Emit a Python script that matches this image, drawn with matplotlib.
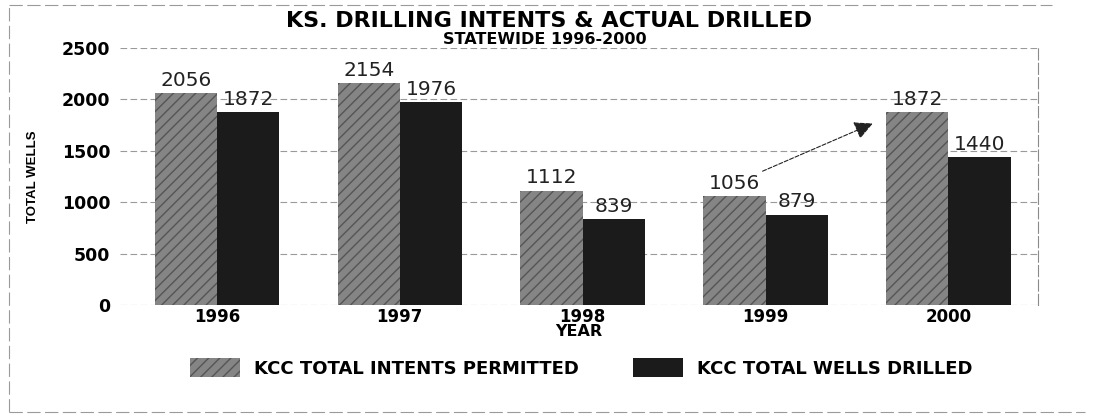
import numpy as np
import matplotlib.pyplot as plt
from matplotlib.lines import Line2D

years = ["1996", "1997", "1998", "1999", "2000"]
intents = [2056, 2154, 1112, 1056, 1872]
drilled = [1872, 1976, 839, 879, 1440]
yticks = [0, 500, 1000, 1500, 2000, 2500]

plt.rcParams['font.family'] = ['DejaVu Sans']

fig = plt.figure(figsize=(10.96, 4.16), dpi=100)
ax = fig.add_axes([0.1095, 0.267, 0.8376, 0.618])

x = np.arange(len(years))
w = 0.34

b1 = ax.bar(x - w / 2, intents, w, color='#858585', edgecolor='#555555',
            hatch='///', linewidth=0, label='KCC TOTAL INTENTS PERMITTED')
b2 = ax.bar(x + w / 2, drilled, w, color='#1b1b1b', linewidth=0,
            label='KCC TOTAL WELLS DRILLED')

for i in range(len(years)):
  ax.text(x[i] - w / 2, intents[i] + 30, str(intents[i]), ha='center', va='bottom',
          fontsize=14.5, color='#222222')
  ax.text(x[i] + w / 2, drilled[i] + 30, str(drilled[i]), ha='center',
          va='bottom', fontsize=14.5, color='#222222')

ax.set_xlim(-0.53, 4.49)
ax.set_ylim(0, 2500)
ax.set_yticks(yticks)
ax.set_yticklabels([str(t) for t in yticks], fontsize=12.5, fontweight='bold')
ax.set_xticks(x)
ax.set_xticklabels(years, fontsize=12, fontweight='bold')
ax.tick_params(length=0)
ax.tick_params(axis='x', pad=2)
ax.tick_params(axis='y', pad=7)

ax.set_axisbelow(True)
ax.grid(axis='y', color='#9a9a9a', linestyle=(0, (6, 3)), linewidth=0.8)
for s in ['left', 'top', 'bottom']:
  ax.spines[s].set_visible(False)
ax.spines['right'].set_color('#8a8a8a')
ax.spines['right'].set_linestyle((0, (10, 3)))

ax.set_xlabel('YEAR', fontsize=11.5, fontweight='bold', labelpad=-1)
ax.set_ylabel('TOTAL WELLS', fontsize=9.5, fontweight='bold',
              family=['Liberation Sans', 'DejaVu Sans'])
ax.yaxis.set_label_coords(-0.088, 0.50)

# arrow from 1999 towards 2000
ax.annotate('', xy=(3.60, 1775), xytext=(2.97, 1290),
            arrowprops=dict(arrowstyle='-|>', color='#222222', linestyle='--',
                            linewidth=0.8, mutation_scale=28))

fig.text(0.501, 0.95, 'KS. DRILLING INTENTS & ACTUAL DRILLED', ha='center',
         va='center', fontsize=16, fontweight='bold')
fig.text(0.497, 0.904, 'STATEWIDE 1996-2000', ha='center', va='center',
         fontsize=11.5, fontweight='bold')

fig.legend(handles=[b1, b2], loc='center', bbox_to_anchor=(0.530, 0.115), ncol=2,
           frameon=False, prop={'weight': 'bold', 'size': 13},
           handlelength=2.8, handleheight=1.25, columnspacing=3.0, handletextpad=0.75)

# scanned page frame
frame = dict(transform=fig.transFigure, color='#9a9a9a', linewidth=0.8,
             linestyle=(0, (12, 4)))
fig.lines.append(Line2D([0.008, 0.96], [0.988, 0.988], **frame))
fig.lines.append(Line2D([0.008, 0.008], [0.01, 0.988], **frame))
fig.lines.append(Line2D([0.008, 0.99], [0.01, 0.01], **frame))

fig.savefig('out.png', dpi=100)
